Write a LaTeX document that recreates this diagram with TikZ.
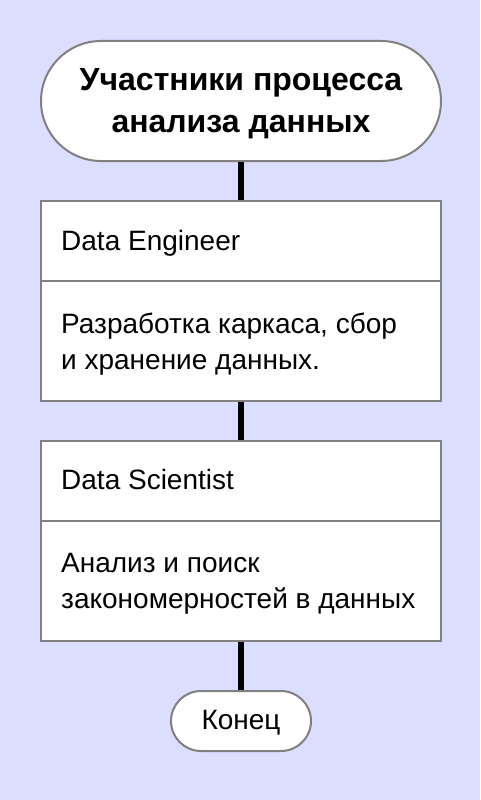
\documentclass[tikz,border=0pt]{standalone}
\usepackage{fontspec}
\setmainfont{Liberation Sans}
\definecolor{bgc}{RGB}{220,222,255}
\definecolor{bordc}{RGB}{128,128,128}
\begin{document}
\begin{tikzpicture}[x=1pt,y=-1pt,
  base/.style={draw=bordc, line width=2pt, fill=white},
  term/.style={base, rounded corners=#1, inner sep=0pt},
  field/.style={base, minimum width=400pt, inner sep=0pt},
  txt/.style={inner sep=0pt, align=left, anchor=base west, font=\fontsize{28}{36}\selectfont},
  conn/.style={line width=6pt, black}]
\fill[bgc] (0,0) rectangle (480,800);
\useasboundingbox (0,0) rectangle (480,800);
\node[term=60pt, minimum width=400pt, minimum height=120pt] (start) at (241,101) {};
\node[inner sep=0pt, align=center, anchor=base, font=\fontsize{32}{42}\selectfont\bfseries] (startt) at (241,132) {Участники процесса\\анализа данных};
\node[field, minimum height=80pt] (e1) at (241,241) {};
\node[field, minimum height=120pt] (e2) at (241,341) {};
\node[field, minimum height=80pt] (s1) at (241,481) {};
\node[field, minimum height=120pt] (s2) at (241,581) {};
\node[term=30pt, minimum width=140pt, minimum height=60pt] (end) at (241,721) {};
\node[txt] (e1t) at (61,250.5) {Data Engineer};
\node[txt] (e2t) at (61,369) {Разработка каркаса, сбор\\и хранение данных.};
\node[txt] (s1t) at (61,489.5) {Data Scientist};
\node[txt] (s2t) at (61,608) {Анализ и поиск\\закономерностей в данных};
\node[inner sep=0pt, anchor=base, font=\fontsize{28}{36}\selectfont] (endt) at (241,729.5) {Конец};
\draw[conn] (start.south) -- (e1.north);
\draw[conn] (e2.south) -- (s1.north);
\draw[conn] (s2.south) -- (end.north);
\end{tikzpicture}
\end{document}
